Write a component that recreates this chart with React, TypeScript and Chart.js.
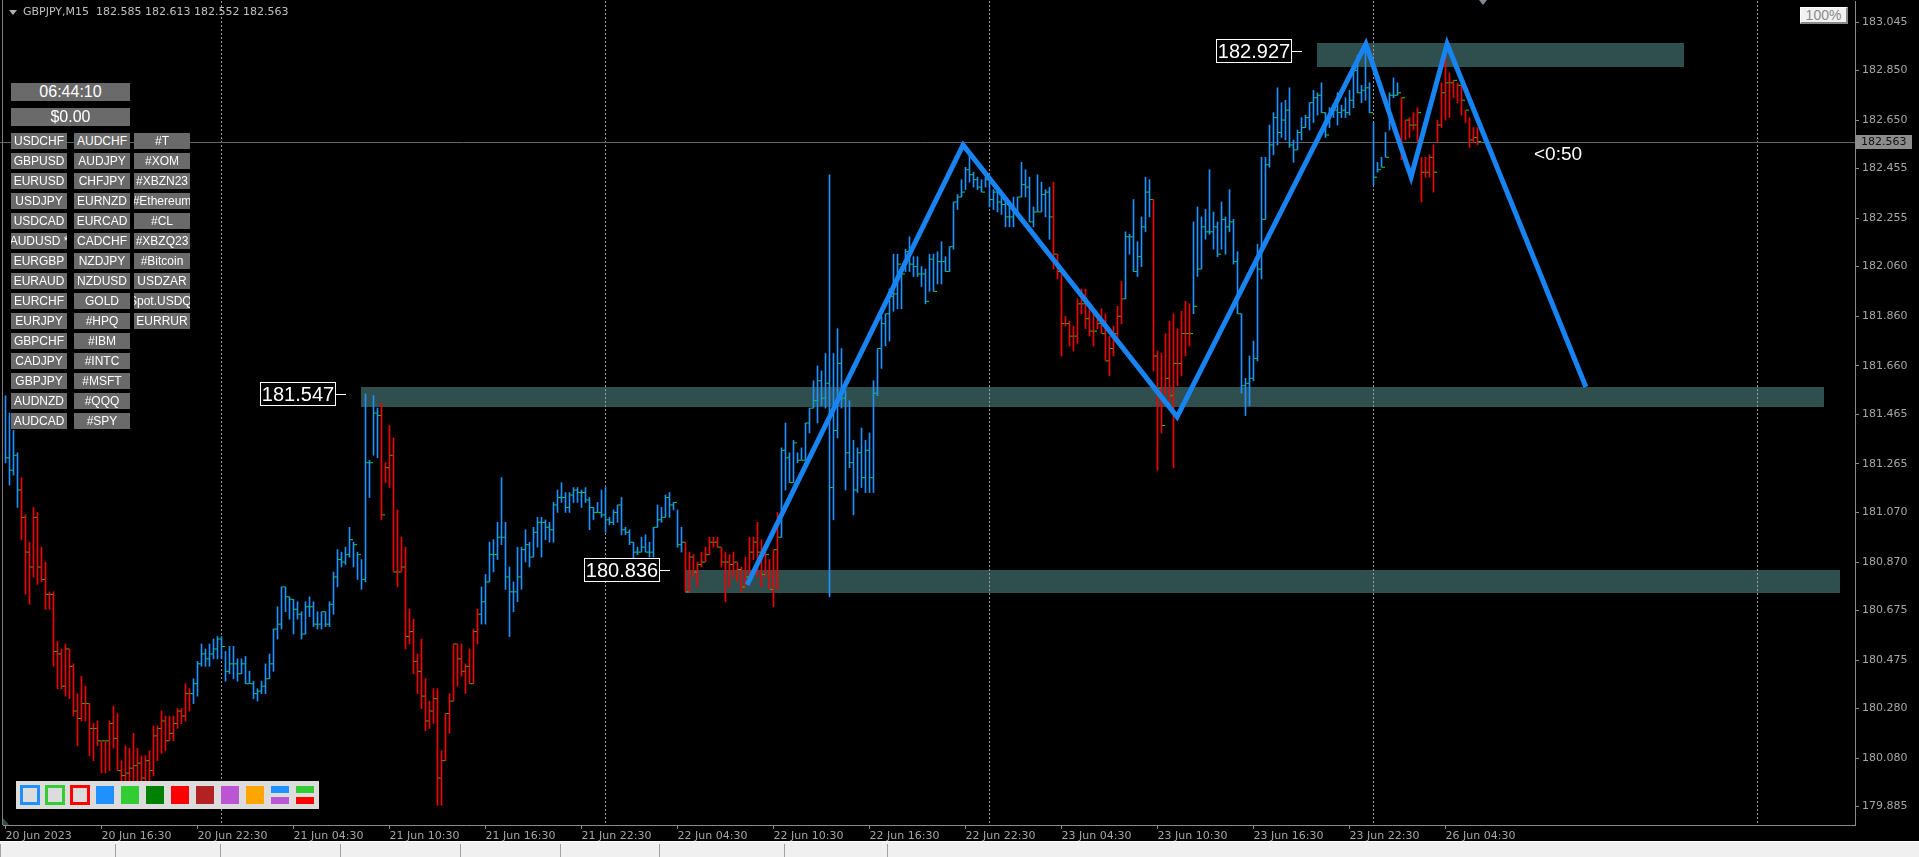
import React, { useEffect, useRef } from 'react';
import { Chart, registerables } from 'chart.js';
Chart.register(...registerables);

// ---------------- data ----------------
const symbolHeader = 'GBPJPY,M15  182.585 182.613 182.552 182.563';
const currentPrice = 182.563;

const tickLabels = [
  '20 Jun 2023', '20 Jun 16:30', '20 Jun 22:30', '21 Jun 04:30', '21 Jun 10:30', '21 Jun 16:30',
  '21 Jun 22:30', '22 Jun 04:30', '22 Jun 10:30', '22 Jun 16:30', '22 Jun 22:30', '23 Jun 04:30',
  '23 Jun 10:30', '23 Jun 16:30', '23 Jun 22:30', '26 Jun 04:30',
];
const barsPerTickLabel = 24;
const daySeparators = [54, 150, 246, 342, 438];

const yTicks = [
  183.045, 182.85, 182.65, 182.455, 182.255, 182.06, 181.86, 181.66, 181.465,
  181.265, 181.07, 180.87, 180.675, 180.475, 180.28, 180.08, 179.885,
];

const highs = [
  181.54, 181.47, 181.40, 181.31, 181.21, 181.06, 180.95, 181.09, 181.07, 180.93,
  180.87, 180.75, 180.75, 180.55, 180.52, 180.54, 180.52, 180.46, 180.34, 180.41,
  180.37, 180.30, 180.22, 180.23, 180.15, 180.15, 180.23, 180.29, 180.26, 180.07,
  180.13, 180.12, 180.18, 180.12, 180.09, 180.09, 180.11, 180.21, 180.21, 180.27,
  180.25, 180.25, 180.25, 180.28, 180.28, 180.38, 180.36, 180.40, 180.47, 180.54,
  180.52, 180.54, 180.56, 180.57, 180.57, 180.51, 180.53, 180.53, 180.48, 180.48,
  180.49, 180.43, 180.39, 180.36, 180.39, 180.46, 180.50, 180.60, 180.69, 180.77,
  180.77, 180.73, 180.72, 180.71, 180.67, 180.71, 180.73, 180.71, 180.67, 180.67,
  180.67, 180.71, 180.83, 180.92, 180.91, 180.93, 181.01, 180.95, 180.91, 180.88,
  181.547, 181.28, 181.54, 181.49, 181.51, 181.27, 181.42, 181.37, 181.08, 180.97,
  180.93, 180.68, 180.64, 180.50, 180.56, 180.40, 180.31, 180.36, 180.36, 180.11,
  180.26, 180.34, 180.54, 180.54, 180.54, 180.46, 180.52, 180.60, 180.68, 180.77,
  180.82, 180.95, 180.96, 181.03, 181.21, 181.03, 180.85, 180.79, 180.93, 180.93,
  181.00, 180.95, 181.01, 181.05, 181.05, 181.04, 181.03, 181.11, 181.16, 181.19,
  181.15, 181.15, 181.17, 181.17, 181.16, 181.17, 181.13, 181.09, 181.11, 181.16,
  181.17, 181.05, 181.08, 181.10, 181.13, 181.01, 181.00, 180.95, 180.93, 180.97,
  180.98, 180.95, 181.01, 181.10, 181.09, 181.14, 181.15, 181.11, 181.08, 181.01,
  180.95, 180.91, 180.90, 180.87, 180.91, 180.93, 180.97, 180.97, 180.97, 180.93,
  180.91, 180.90, 180.91, 180.87, 180.85, 180.89, 180.97, 180.97, 181.03, 180.96,
  180.91, 180.88, 180.92, 181.07, 181.33, 181.43, 181.31, 181.36, 181.31, 181.33,
  181.43, 181.49, 181.60, 181.66, 181.64, 181.71, 182.43, 181.71, 181.81, 181.73,
  181.56, 181.52, 181.36, 181.33, 181.41, 181.36, 181.39, 181.60, 181.73, 181.86,
  181.87, 181.97, 182.11, 182.11, 182.03, 182.13, 182.18, 182.10, 182.10, 182.06,
  182.05, 182.11, 182.11, 182.12, 182.16, 182.10, 182.14, 182.32, 182.35, 182.41,
  182.46, 182.51, 182.44, 182.42, 182.41, 182.42, 182.40, 182.37, 182.36, 182.34,
  182.33, 182.32, 182.34, 182.34, 182.48, 182.45, 182.42, 182.30, 182.43, 182.40,
  182.37, 182.38, 182.40, 182.11, 182.05, 181.86, 181.84, 181.82, 181.93, 181.97,
  181.97, 181.90, 181.88, 181.87, 181.89, 181.87, 181.78, 181.82, 181.90, 182.00,
  182.20, 182.19, 182.33, 182.16, 182.26, 182.42, 182.41, 182.33, 181.72, 181.71,
  181.79, 181.84, 181.87, 181.81, 181.88, 181.92, 181.91, 182.24, 182.30, 182.26,
  182.29, 182.45, 182.28, 182.24, 182.32, 182.26, 182.37, 182.25, 182.12, 181.87,
  181.61, 181.70, 181.76, 182.15, 182.50, 182.50, 182.63, 182.68, 182.78, 182.72,
  182.73, 182.78, 182.57, 182.61, 182.66, 182.67, 182.72, 182.77, 182.76, 182.80,
  182.68, 182.70, 182.71, 182.76, 182.71, 182.74, 182.77, 182.85, 182.91, 182.79,
  182.927, 182.80, 182.64, 182.48, 182.50, 182.60, 182.76, 182.82, 182.80, 182.74,
  182.65, 182.66, 182.68, 182.70, 182.50, 182.50, 182.51, 182.55, 182.65, 182.80,
  182.93, 182.84, 182.81, 182.80, 182.79, 182.69, 182.66, 182.62, 182.62,
];

const lows = [
  181.27, 181.18, 181.22, 181.09, 180.96, 180.74, 180.70, 180.81, 180.78, 180.79,
  180.68, 180.68, 180.45, 180.36, 180.36, 180.33, 180.32, 180.25, 180.13, 180.23,
  180.23, 180.09, 180.07, 180.13, 180.02, 180.02, 180.03, 180.12, 180.03, 179.97,
  179.97, 179.97, 179.99, 179.98, 179.94, 179.98, 179.99, 180.01, 180.07, 180.10,
  180.11, 180.15, 180.15, 180.20, 180.22, 180.23, 180.27, 180.30, 180.33, 180.45,
  180.45, 180.45, 180.48, 180.48, 180.48, 180.39, 180.42, 180.40, 180.39, 180.42,
  180.38, 180.38, 180.32, 180.31, 180.34, 180.34, 180.40, 180.43, 180.56, 180.60,
  180.67, 180.64, 180.58, 180.64, 180.56, 180.58, 180.65, 180.61, 180.60, 180.60,
  180.61, 180.61, 180.66, 180.77, 180.85, 180.86, 180.89, 180.85, 180.80, 180.76,
  180.79, 181.13, 181.30, 181.29, 181.04, 181.19, 181.17, 180.83, 180.77, 180.83,
  180.52, 180.54, 180.42, 180.34, 180.28, 180.19, 180.20, 180.22, 179.89, 179.89,
  180.07, 180.18, 180.31, 180.37, 180.41, 180.34, 180.38, 180.38, 180.54, 180.62,
  180.62, 180.79, 180.83, 180.88, 180.94, 180.76, 180.57, 180.67, 180.71, 180.76,
  180.87, 180.85, 180.89, 180.93, 180.89, 180.96, 180.95, 180.95, 181.07, 181.11,
  181.07, 181.07, 181.11, 181.11, 181.09, 181.11, 181.00, 181.04, 181.07, 181.05,
  180.99, 181.02, 181.02, 181.03, 180.98, 180.98, 180.94, 180.87, 180.90, 180.91,
  180.91, 180.89, 180.89, 181.01, 181.03, 181.05, 181.05, 181.08, 180.93, 180.91,
  180.75, 180.75, 180.81, 180.77, 180.85, 180.87, 180.90, 180.93, 180.93, 180.85,
  180.71, 180.77, 180.81, 180.79, 180.75, 180.77, 180.79, 180.88, 180.81, 180.77,
  180.81, 180.76, 180.69, 180.76, 180.97, 181.16, 181.19, 181.19, 181.27, 181.28,
  181.28, 181.39, 181.49, 181.43, 181.50, 181.49, 180.73, 181.04, 181.37, 181.49,
  181.16, 181.25, 181.06, 181.15, 181.17, 181.15, 181.15, 181.15, 181.54, 181.65,
  181.74, 181.76, 181.88, 181.89, 181.89, 182.04, 182.04, 182.02, 182.02, 181.98,
  181.91, 181.96, 181.96, 181.99, 181.99, 182.04, 182.04, 182.13, 182.29, 182.34,
  182.37, 182.40, 182.38, 182.37, 182.36, 182.38, 182.30, 182.29, 182.28, 182.27,
  182.22, 182.22, 182.22, 182.28, 182.34, 182.34, 182.24, 182.22, 182.28, 182.28,
  182.26, 182.17, 182.05, 182.01, 181.70, 181.82, 181.74, 181.72, 181.75, 181.87,
  181.81, 181.78, 181.74, 181.81, 181.79, 181.68, 181.62, 181.70, 181.77, 181.83,
  181.93, 182.11, 182.04, 182.02, 182.06, 182.20, 182.26, 181.64, 181.24, 181.39,
  181.54, 181.52, 181.25, 181.58, 181.62, 181.70, 181.74, 181.87, 182.02, 182.05,
  182.17, 182.19, 182.13, 182.10, 182.13, 182.11, 182.20, 182.07, 181.87, 181.55,
  181.46, 181.50, 181.60, 181.68, 182.01, 182.25, 182.46, 182.51, 182.55, 182.58,
  182.57, 182.54, 182.48, 182.53, 182.57, 182.62, 182.61, 182.64, 182.67, 182.68,
  182.58, 182.62, 182.66, 182.63, 182.66, 182.66, 182.67, 182.70, 182.76, 182.72,
  182.73, 182.68, 182.39, 182.44, 182.46, 182.50, 182.61, 182.74, 182.75, 182.49,
  182.57, 182.58, 182.61, 182.56, 182.32, 182.42, 182.42, 182.36, 182.56, 182.62,
  182.65, 182.66, 182.74, 182.72, 182.67, 182.64, 182.54, 182.56, 182.55,
];

const closes = [
  181.29, 181.24, 181.30, 181.16, 181.05, 180.91, 180.85, 181.05, 180.85, 180.80,
  180.74, 180.74, 180.51, 180.50, 180.37, 180.52, 180.45, 180.27, 180.24, 180.30,
  180.30, 180.20, 180.20, 180.15, 180.15, 180.15, 180.22, 180.16, 180.03, 180.01,
  180.02, 180.04, 180.05, 180.06, 180.00, 180.07, 180.03, 180.17, 180.20, 180.23,
  180.15, 180.18, 180.22, 180.27, 180.25, 180.34, 180.34, 180.38, 180.46, 180.50,
  180.48, 180.50, 180.52, 180.56, 180.53, 180.43, 180.46, 180.46, 180.42, 180.46,
  180.38, 180.38, 180.34, 180.35, 180.37, 180.40, 180.46, 180.60, 180.62, 180.77,
  180.73, 180.72, 180.68, 180.66, 180.58, 180.69, 180.69, 180.62, 180.62, 180.67,
  180.62, 180.70, 180.81, 180.88, 180.87, 180.90, 180.96, 180.94, 180.90, 180.80,
  181.27, 181.27, 181.47, 181.46, 181.06, 181.25, 181.30, 180.83, 180.83, 180.85,
  180.57, 180.59, 180.47, 180.43, 180.33, 180.23, 180.27, 180.32, 180.00, 180.07,
  180.26, 180.31, 180.54, 180.48, 180.43, 180.45, 180.38, 180.59, 180.66, 180.71,
  180.79, 180.90, 180.90, 180.97, 180.97, 180.81, 180.75, 180.75, 180.81, 180.92,
  180.94, 180.89, 180.99, 181.03, 181.03, 181.01, 181.00, 181.10, 181.13, 181.13,
  181.09, 181.14, 181.16, 181.15, 181.15, 181.12, 181.09, 181.07, 181.07, 181.06,
  181.04, 181.03, 181.07, 181.10, 181.00, 180.99, 180.95, 180.91, 180.91, 180.93,
  180.91, 180.91, 181.01, 181.04, 181.05, 181.13, 181.10, 181.11, 180.94, 180.95,
  180.75, 180.89, 180.83, 180.86, 180.87, 180.90, 180.95, 180.95, 180.93, 180.87,
  180.87, 180.86, 180.87, 180.84, 180.77, 180.81, 180.91, 180.95, 180.91, 180.82,
  180.90, 180.76, 180.92, 180.97, 181.32, 181.29, 181.19, 181.35, 181.28, 181.28,
  181.43, 181.49, 181.52, 181.60, 181.53, 181.59, 181.17, 181.40, 181.67, 181.53,
  181.31, 181.27, 181.16, 181.31, 181.21, 181.32, 181.21, 181.55, 181.73, 181.83,
  181.87, 181.94, 181.95, 182.07, 182.03, 182.12, 182.07, 182.06, 182.03, 182.03,
  181.92, 182.09, 181.96, 182.08, 182.08, 182.04, 182.14, 182.32, 182.34, 182.36,
  182.45, 182.43, 182.41, 182.38, 182.36, 182.41, 182.33, 182.36, 182.32, 182.31,
  182.26, 182.26, 182.28, 182.34, 182.39, 182.38, 182.24, 182.28, 182.28, 182.35,
  182.36, 182.26, 182.11, 182.04, 181.83, 181.83, 181.78, 181.78, 181.91, 181.91,
  181.85, 181.80, 181.80, 181.83, 181.79, 181.68, 181.73, 181.79, 181.86, 181.93,
  182.18, 182.18, 182.04, 182.10, 182.22, 182.36, 182.33, 181.70, 181.57, 181.42,
  181.61, 181.54, 181.67, 181.67, 181.79, 181.79, 181.79, 181.90, 182.05, 182.22,
  182.20, 182.20, 182.22, 182.11, 182.25, 182.22, 182.24, 182.08, 181.87, 181.58,
  181.59, 181.61, 181.69, 182.05, 182.25, 182.47, 182.55, 182.66, 182.60, 182.65,
  182.69, 182.55, 182.53, 182.60, 182.62, 182.66, 182.72, 182.74, 182.75, 182.68,
  182.59, 182.68, 182.69, 182.68, 182.69, 182.68, 182.73, 182.85, 182.76, 182.77,
  182.78, 182.68, 182.42, 182.45, 182.46, 182.50, 182.75, 182.75, 182.76, 182.74,
  182.65, 182.63, 182.63, 182.68, 182.44, 182.44, 182.50, 182.44, 182.63, 182.76,
  182.80, 182.80, 182.81, 182.79, 182.73, 182.69, 182.57, 182.58, 182.563,
];

// trend regime (bar colour): index where each regime starts, and its direction
const trendStart = [0, 4, 47, 94, 119, 170, 194, 262, 280, 287, 297, 349];
const trendDir = [1, -1, 1, -1, 1, -1, 1, -1, 1, -1, 1, -1];

// zigzag pattern
const zigzagIndex = [185.4, 239.4, 292.9, 340.1, 351.4, 360.4, 395.1];
const zigzagPrice = [180.778, 182.55, 181.455, 182.957, 182.421, 182.957, 181.575];

// support / resistance zones
const zoneStart = [327.9, 88.9, 169.9];
const zoneEnd = [419.6, 454.6, 458.6];
const zoneTop = [182.961, 181.575, 180.838];
const zoneBottom = [182.864, 181.495, 180.746];
const zoneLabel = [182.927, 181.547, 180.836];

// left panel
const clockText = '06:44:10';
const balanceText = '$0.00';
const symbolsCol1 = ['USDCHF', 'GBPUSD', 'EURUSD', 'USDJPY', 'USDCAD', 'AUDUSD *', 'EURGBP', 'EURAUD', 'EURCHF', 'EURJPY', 'GBPCHF', 'CADJPY', 'GBPJPY', 'AUDNZD', 'AUDCAD'];
const symbolsCol2 = ['AUDCHF', 'AUDJPY', 'CHFJPY', 'EURNZD', 'EURCAD', 'CADCHF', 'NZDJPY', 'NZDUSD', 'GOLD', '#HPQ', '#IBM', '#INTC', '#MSFT', '#QQQ', '#SPY'];
const symbolsCol3 = ['#T', '#XOM', '#XBZN23', '#Ethereum', '#CL', '#XBZQ23', '#Bitcoin', 'USDZAR', 'Spot.USDQI', 'EURRUR'];
const timerText = '<0:50';
const zoomText = '100%';

// ---------------- styles ----------------
const W = 1919;
const H = 857;
const BLUE = '#1E90FF';
const RED = '#F20000';
const TICK_GREEN = '#00E600';
const ZZ_BLUE = '#1784F2';
const ZONE = '#2F4F4F';
const AXIS_LINE = '#8a8a8a';
const AXIS_TEXT = '#a6a6a6';
const FONT = 'DejaVu Sans';

export default function App() {
  const ref = useRef<HTMLCanvasElement>(null);

  useEffect(() => {
    document.body.style.margin = '0';
    document.body.style.background = '#000';
    const canvas = ref.current;
    if (!canvas) return;
    const n = Math.min(highs.length, lows.length, closes.length);
    const barColors: string[] = [];
    for (let i = 0; i < n; i++) {
      let dir = 1;
      for (let k = 0; k < trendStart.length; k++) if (i >= trendStart[k]) dir = trendDir[k];
      barColors.push(dir > 0 ? BLUE : RED);
    }
    const bars = Array.from({ length: n }, (_, i) => ({ x: i, y: [lows[i], highs[i]] }));
    const ticks = Array.from({ length: n }, (_, i) => ({ x: i + 0.5, y: closes[i] }));
    const zz = zigzagIndex.map((v, i) => ({ x: v, y: zigzagPrice[i] }));

    const decor = {
      id: 'decor',
      beforeDatasetsDraw(chart: any) {
        const { ctx, chartArea: a, scales } = chart;
        const x = scales.x, y = scales.y;
        ctx.save();
        ctx.fillStyle = ZONE;
        for (let k = 0; k < zoneStart.length; k++) {
          const x0 = Math.round(x.getPixelForValue(zoneStart[k]));
          const x1 = Math.round(x.getPixelForValue(zoneEnd[k]));
          const y0 = Math.round(y.getPixelForValue(zoneTop[k]));
          const y1 = Math.round(y.getPixelForValue(zoneBottom[k]));
          ctx.fillRect(x0, y0, x1 - x0, y1 - y0);
        }
        ctx.strokeStyle = '#9c9c9c';
        ctx.lineWidth = 1;
        ctx.setLineDash([2, 2]);
        for (const s of daySeparators) {
          const px = Math.floor(x.getPixelForValue(s)) + 0.5;
          ctx.beginPath();
          ctx.moveTo(px, a.top);
          ctx.lineTo(px, a.bottom);
          ctx.stroke();
        }
        ctx.setLineDash([]);
        ctx.strokeStyle = '#5c6868';
        const py = Math.round(y.getPixelForValue(currentPrice)) + 0.5;
        ctx.beginPath();
        ctx.moveTo(0, py);
        ctx.lineTo(a.right, py);
        ctx.stroke();
        ctx.restore();
      },
      afterDatasetsDraw(chart: any) {
        const { ctx, scales } = chart;
        const x = scales.x, y = scales.y;
        ctx.save();
        for (let k = 0; k < zoneLabel.length; k++) {
          const zx = x.getPixelForValue(zoneStart[k]);
          const ly = Math.round(y.getPixelForValue(zoneLabel[k]));
          const right = Math.round(zx) - 25;
          const left = right - 76;
          ctx.fillStyle = '#000';
          ctx.fillRect(left, ly - 12, 76, 24);
          ctx.strokeStyle = '#fff';
          ctx.lineWidth = 1;
          ctx.strokeRect(left + 0.5, ly - 11.5, 75, 23);
          ctx.beginPath();
          ctx.moveTo(right, ly + 0.5);
          ctx.lineTo(right + 10, ly + 0.5);
          ctx.stroke();
          ctx.fillStyle = '#fff';
          ctx.font = '20px "Liberation Sans", Arial';
          ctx.textAlign = 'center';
          ctx.textBaseline = 'middle';
          ctx.fillText(zoneLabel[k].toFixed(3), left + 38, ly + 1);
        }
        ctx.restore();
      },
      afterDraw(chart: any) {
        const { ctx, chartArea: a, scales } = chart;
        const y = scales.y;
        ctx.save();
        const py = Math.round(y.getPixelForValue(currentPrice));
        ctx.fillStyle = '#8c8c8c';
        ctx.fillRect(a.right + 1, py - 7, 56, 14);
        ctx.fillStyle = '#111';
        ctx.font = '11px "DejaVu Sans"';
        ctx.textBaseline = 'middle';
        ctx.textAlign = 'left';
        ctx.fillText(currentPrice.toFixed(3), a.right + 6, py + 0.5);
        ctx.strokeStyle = '#7c7c7c';
        ctx.beginPath();
        ctx.moveTo(2.5, 0);
        ctx.lineTo(2.5, a.bottom);
        ctx.stroke();
        ctx.restore();
      },
    };

    const chart = new Chart(canvas, {
      type: 'bar',
      data: {
        datasets: [
          {
            type: 'line',
            data: zz,
            borderColor: ZZ_BLUE,
            borderWidth: 5,
            pointRadius: 0,
            tension: 0,
            fill: false,
            order: 0,
          } as any,
          {
            type: 'bar',
            data: bars,
            backgroundColor: barColors,
            borderWidth: 0,
            barThickness: 1,
            grouped: false,
            order: 1,
          } as any,
          {
            type: 'scatter',
            data: ticks,
            pointStyle: 'line',
            pointRadius: 1.5,
            pointBorderColor: TICK_GREEN,
            pointBackgroundColor: TICK_GREEN,
            pointBorderWidth: 1,
            order: 2,
          } as any,
        ],
      },
      options: {
        responsive: false,
        devicePixelRatio: 1,
        animation: false,
        events: [],
        layout: { autoPadding: false, padding: { left: 3, top: 1, right: 0, bottom: 0 } },
        plugins: { legend: { display: false }, tooltip: { enabled: false } },
        scales: {
          x: {
            type: 'linear',
            min: -0.625,
            max: 462.375,
            offset: false,
            bounds: 'data',
            afterBuildTicks: (s: any) => {
              s.ticks = tickLabels.map((_, k) => ({ value: k * barsPerTickLabel }));
            },
            afterFit: (s: any) => {
              s.height = 32;
              s.paddingLeft = 0;
              s.paddingRight = 0;
              s.paddingTop = 0;
              s.paddingBottom = 0;
            },
            ticks: {
              autoSkip: false,
              maxRotation: 0,
              minRotation: 0,
              align: 'start',
              padding: 1,
              color: AXIS_TEXT,
              font: { family: FONT, size: 11 },
              callback: (_v: any, idx: number) => tickLabels[idx],
            },
            grid: { drawOnChartArea: false, drawTicks: true, tickLength: 4, color: AXIS_LINE, offset: false },
            border: { display: true, color: AXIS_LINE },
          } as any,
          y: {
            type: 'linear',
            position: 'right',
            min: 179.811,
            max: 183.1296,
            bounds: 'data',
            afterBuildTicks: (s: any) => {
              s.ticks = yTicks.map((v) => ({ value: v }));
            },
            afterFit: (s: any) => {
              s.width = 64;
              s.paddingTop = 0;
              s.paddingBottom = 0;
              s.paddingLeft = 0;
              s.paddingRight = 0;
            },
            ticks: {
              autoSkip: false,
              padding: 3,
              color: AXIS_TEXT,
              font: { family: FONT, size: 11 },
              callback: (v: any) => Number(v).toFixed(3),
            },
            grid: { drawOnChartArea: false, drawTicks: true, tickLength: 4, color: AXIS_LINE },
            border: { display: true, color: AXIS_LINE },
          } as any,
        },
      },
      plugins: [decor],
    } as any);
    return () => chart.destroy();
  }, []);

  const btn: React.CSSProperties = {
    position: 'absolute',
    width: 56,
    height: 16,
    background: '#6a6a6a',
    color: '#fff',
    font: '12px "Liberation Sans", Arial',
    lineHeight: '16px',
    textAlign: 'center',
    overflow: 'hidden',
    whiteSpace: 'nowrap',
    display: 'flex',
    justifyContent: 'center',
  };
  const cols = [symbolsCol1, symbolsCol2, symbolsCol3];
  const colX = [11, 74, 134];

  const paletteOutline = ['#1E90FF', '#32CD32', '#FF0000'];
  const paletteFill = ['#1E90FF', '#32CD32', '#008000', '#FF0000', '#B22222', '#BA55D3', '#FFA500'];
  const paletteSplit = [['#1E90FF', '#BA55D3'], ['#32CD32', '#FF0000']];

  return (
    <div style={{ position: 'relative', width: W, height: H, background: '#000', overflow: 'hidden' }}>
      <canvas ref={ref} width={W} height={H} style={{ position: 'absolute', left: 0, top: 0, width: W, height: H }} />

      {/* header */}
      <div style={{ position: 'absolute', left: 9, top: 10, width: 0, height: 0, borderLeft: '4px solid transparent', borderRight: '4px solid transparent', borderTop: '5px solid #b0b0b0' }} />
      <div style={{ position: 'absolute', left: 23, top: 5, font: `11px "${FONT}"`, lineHeight: '14px', color: '#c0c0c0', whiteSpace: 'pre' }}>{symbolHeader}</div>

      {/* shift marker */}
      <div style={{ position: 'absolute', left: 1479, top: 0, width: 0, height: 0, borderLeft: '4px solid transparent', borderRight: '4px solid transparent', borderTop: '5px solid #7d8a94' }} />

      {/* zoom box */}
      <div style={{ position: 'absolute', left: 1800, top: 7, width: 48, height: 17, boxSizing: 'border-box', background: '#f2f2f2', borderTop: '1px solid #fff', borderLeft: '1px solid #fff', borderRight: '2px solid #8a8a8a', borderBottom: '2px solid #8a8a8a', color: '#8a8a8a', font: '14px "Liberation Sans", Arial', lineHeight: '14px', textAlign: 'center' }}>{zoomText}</div>

      {/* clock / balance */}
      <div style={{ ...btn, left: 11, top: 83, width: 119, height: 18, lineHeight: '18px', font: '16px "Liberation Sans", Arial' }}>{clockText}</div>
      <div style={{ ...btn, left: 11, top: 108, width: 119, height: 18, lineHeight: '18px', font: '16px "Liberation Sans", Arial' }}>{balanceText}</div>

      {/* symbol buttons */}
      {cols.map((col, c) =>
        col.map((s, r) => (
          <div key={`${c}-${r}`} style={{ ...btn, left: colX[c], top: 133 + r * 20 }}>
            <span style={{ flexShrink: 0 }}>{s}</span>
          </div>
        ))
      )}

      {/* timer */}
      <div style={{ position: 'absolute', left: 1534, top: 144, color: '#fff', font: '19px "Liberation Sans", Arial', lineHeight: '19px', whiteSpace: 'nowrap' }}>{timerText}</div>

      {/* colour palette */}
      <div style={{ position: 'absolute', left: 16, top: 781, width: 303, height: 28, background: '#DCDCDC' }}>
        {paletteOutline.map((c, k) => (
          <div key={`o${k}`} style={{ position: 'absolute', left: 4 + k * 25, top: 4, width: 20, height: 20, boxSizing: 'border-box', border: `3px solid ${c}`, background: '#DCDCDC' }} />
        ))}
        {paletteFill.map((c, k) => (
          <div key={`f${k}`} style={{ position: 'absolute', left: 80 + k * 25, top: 5, width: 18, height: 18, background: c }} />
        ))}
        {paletteSplit.map((p, k) => (
          <React.Fragment key={`s${k}`}>
            <div style={{ position: 'absolute', left: 255 + k * 25, top: 5, width: 18, height: 7, background: p[0] }} />
            <div style={{ position: 'absolute', left: 255 + k * 25, top: 16, width: 18, height: 7, background: p[1] }} />
          </React.Fragment>
        ))}
      </div>

      {/* corner marker */}
      <div style={{ position: 'absolute', left: 3, top: 818, width: 0, height: 0, borderBottom: '7px solid #2F4F4F', borderRight: '6px solid transparent' }} />

      {/* tab bar */}
      <div style={{ position: 'absolute', left: 0, top: 841, width: W, height: 16, background: '#f0f0f0', borderTop: '1px solid #ffffff' }}>
        {[0, 115, 220, 340, 460, 560, 659, 784, 887].map((x, k) => (
          <div key={k} style={{ position: 'absolute', left: x, top: 2, width: 1, height: 14, background: '#a0a0a0' }} />
        ))}
      </div>
    </div>
  );
}
